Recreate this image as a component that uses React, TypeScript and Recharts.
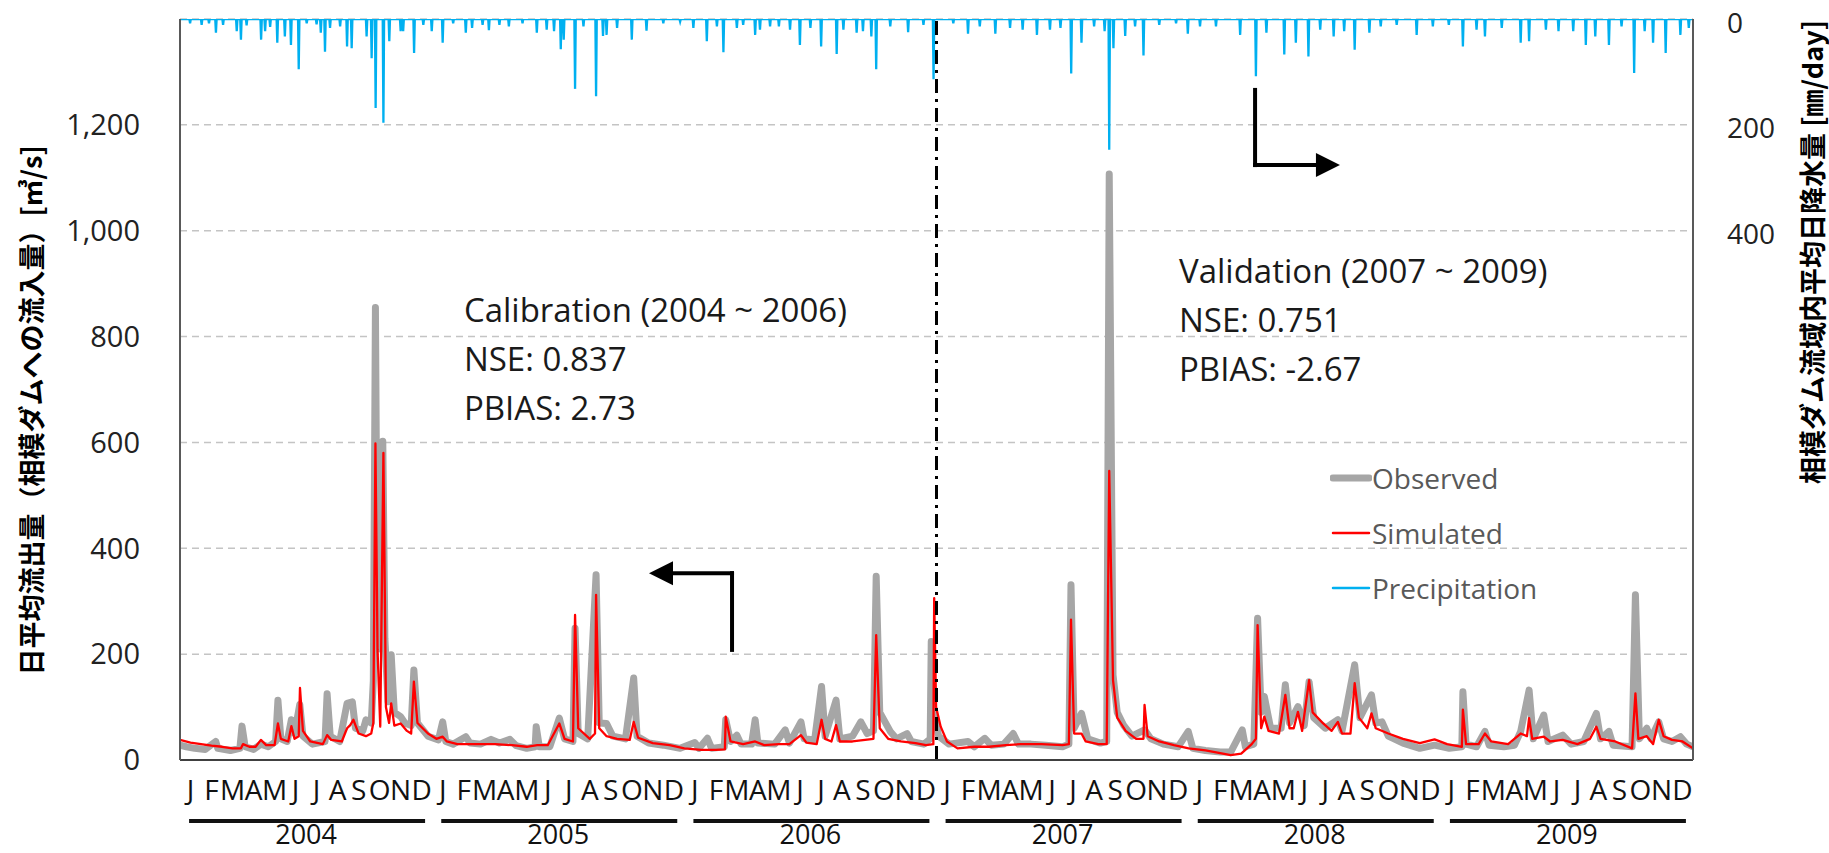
import React from 'react';
import {
  ComposedChart,
  Line,
  XAxis,
  YAxis,
  CartesianGrid,
  ReferenceLine,
  ReferenceDot,
  Legend,
} from 'recharts';

// ---------- categories / tick labels ----------
const monthLetters = ['J', 'F', 'M', 'A', 'M', 'J', 'J', 'A', 'S', 'O', 'N', 'D'];
const years = ['2004', '2005', '2006', '2007', '2008', '2009'];
const leftTicks = [0, 200, 400, 600, 800, 1000, 1200];
const rightTicks = [0, 200, 400];
const seriesNames = ['Observed', 'Simulated', 'Precipitation'];

// ---------- series: [time in months since Jan 2004, value] ----------
const observed: [number, number][] = [
  [0, 28], [0.3, 25], [0.7, 22], [1.2, 20], [1.7, 35], [1.8, 22], [2.4, 18], [2.85, 22], [2.95, 64], [3.1, 25],
  [3.5, 20], [3.85, 30], [4.2, 25], [4.55, 35], [4.66, 113], [4.8, 40], [5.1, 35], [5.3, 76], [5.45, 50], [5.7, 105],
  [5.85, 45], [6.3, 30], [6.9, 35], [7.0, 125], [7.15, 45], [7.6, 35], [7.95, 107], [8.2, 110], [8.35, 60], [8.7, 55],
  [8.85, 76], [9.1, 70], [9.2, 150], [9.3, 855], [9.4, 220], [9.5, 210], [9.65, 602], [9.75, 230], [9.9, 110], [10.05, 199],
  [10.2, 90], [10.5, 82], [10.7, 70], [11.0, 65], [11.13, 170], [11.3, 70], [11.8, 45], [12.3, 38], [12.5, 72], [12.65, 35],
  [13.0, 30], [13.6, 44], [13.8, 32], [14.3, 30], [14.8, 39], [15.2, 32], [15.7, 39], [16.0, 27], [16.5, 22], [16.9, 25],
  [16.95, 63], [17.1, 25], [17.6, 25], [18.05, 79], [18.3, 40], [18.7, 35], [18.8, 249], [18.95, 50], [19.4, 40], [19.8, 350],
  [19.95, 70], [20.3, 69], [20.6, 45], [21.2, 40], [21.59, 155], [21.75, 45], [22.3, 32], [23.0, 28], [23.8, 22], [24.5, 33],
  [24.7, 22], [25.1, 41], [25.3, 22], [25.9, 25], [25.97, 76], [26.2, 35], [26.5, 47], [26.7, 30], [27.2, 30], [27.37, 76],
  [27.5, 32], [28.3, 30], [28.8, 57], [29.0, 32], [29.55, 72], [29.7, 40], [30.2, 38], [30.53, 139], [30.7, 45], [31.22, 113],
  [31.4, 40], [32.0, 45], [32.4, 72], [32.7, 50], [33.0, 55], [33.13, 347], [33.3, 90], [33.8, 54], [34.1, 40], [34.6, 50],
  [34.8, 35], [35.4, 30], [35.7, 40], [35.75, 224], [35.85, 100], [36.1, 45], [36.6, 30], [37.5, 35], [37.8, 25], [38.3, 41],
  [38.6, 28], [39.2, 30], [39.65, 50], [39.9, 30], [40.5, 30], [41.2, 28], [42.0, 25], [42.3, 30], [42.4, 331], [42.55, 60],
  [42.9, 88], [43.2, 40], [43.8, 32], [44.1, 35], [44.22, 1107], [44.4, 161], [44.6, 90], [44.9, 66], [45.3, 45], [45.9, 57],
  [46.2, 40], [46.8, 30], [47.5, 25], [47.98, 54], [48.2, 22], [48.8, 18], [49.5, 15], [50.0, 15], [50.55, 57], [50.7, 25],
  [51.1, 30], [51.28, 268], [51.45, 90], [51.6, 120], [51.9, 60], [52.4, 60], [52.6, 142], [52.8, 70], [53.2, 101], [53.5, 65],
  [53.73, 148], [53.95, 80], [54.5, 60], [55.1, 76], [55.3, 55], [55.9, 180], [56.15, 80], [56.7, 123], [56.9, 70], [57.2, 72],
  [57.5, 45], [58.2, 32], [59.0, 22], [59.7, 28], [60.4, 22], [61.0, 25], [61.05, 129], [61.2, 30], [61.7, 25], [62.1, 54],
  [62.3, 28], [63.0, 25], [63.5, 28], [63.8, 54], [64.2, 132], [64.4, 40], [64.9, 85], [65.1, 35], [65.8, 47], [66.2, 30],
  [66.8, 35], [67.4, 88], [67.6, 40], [68.0, 54], [68.2, 28], [69.1, 25], [69.26, 312], [69.45, 40], [69.8, 60], [70.0, 40],
  [70.37, 72], [70.6, 40], [71.0, 35], [71.4, 44], [71.7, 30], [72, 25],
];

const simulated: [number, number][] = [
  [0, 38], [0.5, 33], [1.0, 30], [1.5, 27], [2.0, 25], [2.5, 22], [2.9, 22], [3.0, 30], [3.3, 25], [3.6, 25],
  [3.85, 38], [4.1, 28], [4.5, 28], [4.66, 69], [4.8, 40], [5.15, 35], [5.3, 64], [5.45, 40], [5.65, 45], [5.71, 136],
  [5.85, 55], [6.2, 35], [6.8, 30], [7.0, 47], [7.2, 38], [7.7, 35], [7.95, 60], [8.1, 66], [8.25, 76], [8.5, 50],
  [8.85, 45], [9.1, 50], [9.2, 70], [9.3, 598], [9.4, 208], [9.53, 63], [9.68, 580], [9.8, 100], [9.95, 70], [10.05, 107],
  [10.2, 65], [10.5, 69], [10.8, 55], [11.0, 50], [11.13, 148], [11.3, 70], [11.8, 50], [12.2, 40], [12.5, 44], [12.7, 35],
  [13.2, 30], [14.0, 30], [15.0, 30], [15.8, 28], [16.5, 25], [17.0, 28], [17.5, 28], [18.05, 69], [18.3, 40], [18.7, 35],
  [18.8, 274], [18.95, 60], [19.5, 40], [19.75, 50], [19.8, 312], [19.95, 60], [20.3, 45], [20.8, 40], [21.4, 38], [21.59, 72],
  [21.8, 42], [22.5, 32], [23.3, 28], [24.0, 22], [24.8, 19], [25.5, 19], [25.93, 20], [25.97, 82], [26.2, 35], [26.8, 30],
  [27.37, 35], [27.8, 28], [28.5, 30], [29.0, 30], [29.55, 47], [29.8, 33], [30.3, 30], [30.53, 76], [30.7, 40], [31.0, 35],
  [31.22, 66], [31.4, 35], [32.0, 35], [32.6, 38], [33.0, 40], [33.13, 236], [33.3, 60], [33.7, 40], [34.3, 35], [35.0, 32],
  [35.5, 28], [35.85, 30], [35.89, 306], [35.98, 100], [36.2, 63], [36.5, 35], [37.0, 22], [37.8, 25], [38.5, 25], [39.3, 28],
  [40.0, 30], [41.0, 30], [42.0, 28], [42.3, 30], [42.4, 265], [42.55, 50], [42.9, 50], [43.1, 35], [43.7, 30], [44.1, 30],
  [44.22, 546], [44.4, 151], [44.6, 80], [45.0, 55], [45.5, 40], [45.85, 40], [45.9, 104], [46.05, 45], [46.6, 35], [47.3, 28],
  [48.0, 22], [48.8, 18], [49.5, 13], [50.0, 9], [50.5, 12], [51.0, 30], [51.2, 40], [51.28, 255], [51.45, 60], [51.6, 82],
  [51.8, 55], [52.3, 50], [52.6, 123], [52.8, 60], [53.0, 60], [53.2, 91], [53.4, 55], [53.73, 151], [53.9, 90], [54.4, 69],
  [54.8, 55], [55.1, 72], [55.3, 50], [55.7, 50], [55.9, 145], [56.1, 80], [56.5, 60], [56.7, 88], [56.9, 60], [57.5, 50],
  [58.2, 40], [59.0, 32], [59.7, 39], [60.3, 30], [61.0, 25], [61.05, 95], [61.2, 30], [61.8, 30], [62.1, 50], [62.4, 35],
  [63.2, 30], [63.8, 50], [64.1, 45], [64.2, 79], [64.35, 40], [64.9, 44], [65.2, 35], [65.8, 38], [66.5, 30], [67.1, 40],
  [67.4, 63], [67.6, 40], [68.3, 35], [69.1, 22], [69.26, 126], [69.4, 40], [69.8, 45], [70.1, 30], [70.37, 76], [70.6, 45],
  [71.0, 38], [71.5, 35], [72, 22],
];

// rain days: [time in months, mm/day]
const precipitation: [number, number][] = [
  [0.48, 8], [1.03, 11], [1.38, 8], [1.71, 26], [2.05, 11], [2.7, 23], [2.9, 39], [3.17, 12], [3.86, 39], [4.05, 23],
  [4.29, 15], [4.63, 45], [4.99, 33], [5.28, 49], [5.65, 95], [6.03, 8], [6.5, 10], [6.7, 26], [6.9, 62], [7.14, 17],
  [7.62, 14], [7.95, 52], [8.17, 55], [8.88, 33], [9.12, 74], [9.31, 168], [9.68, 196], [9.96, 42], [10.5, 23], [10.62, 23],
  [11.14, 64], [11.58, 11], [11.98, 23], [12.5, 45], [13.0, 8], [13.6, 26], [13.9, 17], [14.4, 11], [14.7, 21], [15.2, 11],
  [15.65, 14], [16.3, 8], [16.98, 26], [17.45, 20], [17.8, 23], [18.12, 57], [18.26, 39], [18.8, 132], [19.2, 14], [19.8, 146],
  [20.13, 32], [20.3, 30], [20.8, 17], [21.5, 39], [22.2, 22], [23.0, 8], [23.8, 5], [24.43, 17], [25.07, 42], [25.55, 14],
  [25.86, 63], [26.5, 17], [26.8, 11], [27.37, 30], [27.6, 20], [28.08, 14], [28.5, 14], [29.03, 20], [29.5, 49], [30.0, 17],
  [30.51, 52], [31.25, 66], [31.57, 20], [32.2, 26], [32.5, 23], [32.9, 33], [33.13, 95], [33.8, 14], [34.65, 25], [35.38, 11],
  [35.86, 114], [36.8, 8], [37.5, 28], [38.06, 14], [38.8, 28], [39.5, 17], [40.1, 20], [40.78, 30], [41.4, 20], [41.9, 17],
  [42.41, 103], [42.9, 45], [43.5, 14], [44.0, 23], [44.22, 247], [44.42, 55], [44.98, 32], [45.45, 14], [45.85, 69], [46.6, 11],
  [47.4, 8], [47.96, 28], [48.54, 14], [49.3, 14], [50.45, 30], [51.2, 108], [51.7, 26], [52.55, 67], [53.1, 45], [53.7, 71],
  [54.26, 20], [54.9, 33], [55.4, 23], [55.9, 58], [56.6, 26], [57.14, 14], [57.9, 11], [58.85, 30], [59.62, 14], [60.38, 11],
  [61.05, 52], [61.7, 20], [62.1, 33], [62.9, 17], [63.8, 45], [64.2, 42], [65.0, 20], [65.6, 23], [66.3, 23], [66.9, 49],
  [67.35, 33], [68.0, 49], [68.6, 14], [69.2, 102], [69.7, 23], [70.1, 45], [70.7, 64], [71.4, 30], [71.8, 17],
];

const calibrationText = ['Calibration (2004 ~ 2006)', 'NSE: 0.837', 'PBIAS: 2.73'];
const validationText = ['Validation (2007 ~ 2009)', 'NSE: 0.751', 'PBIAS: -2.67'];

// ---------- tables built for the library ----------
const obsData = observed.map(([t, v]) => ({ t, v }));
const simData = simulated.map(([t, v]) => ({ t, v }));
const DAY = 1 / 30.4;
const preData: { t: number; v: number }[] = [{ t: 0, v: 0 }];
precipitation.forEach(([t, v]) => {
  preData.push({ t: t - DAY, v: 0 }, { t, v }, { t: t + DAY, v: 0 });
});
preData.push({ t: 72, v: 0 });

const monthTicks = Array.from({ length: years.length * 12 + 1 }, (_, i) => i);
const monthLabelTicks = Array.from({ length: years.length * 12 }, (_, i) => i + 0.5);
const yearTicks = years.map((_, i) => i * 12 + 6);

const LATIN = '"Open Sans", "Noto Sans", sans-serif';
const CJK = '"Noto Sans CJK JP", "Noto Sans", sans-serif';

const legendWidths: Record<string, number> = { Observed: 7, Simulated: 2.5, Precipitation: 2.5 };

const LegendContent = (props: any) => {
  const payload = [...(props.payload || [])].sort(
    (a: any, b: any) => seriesNames.indexOf(a.value) - seriesNames.indexOf(b.value)
  );
  return (
    <div style={{ fontFamily: LATIN, fontSize: 28, color: '#595959' }}>
      {payload.map((e: any) => (
        <div key={e.value} style={{ display: 'flex', alignItems: 'center', height: 55 }}>
          <svg width={42} height={14} style={{ display: 'block' }}>
            <line x1={3} x2={39} y1={7} y2={7} stroke={e.color} strokeWidth={legendWidths[e.value] || 2} strokeLinecap="round" />
          </svg>
          <span>{e.value}</span>
        </div>
      ))}
    </div>
  );
};

const YearTick = (props: any) => {
  const { x, y, payload } = props;
  const label = years[Math.floor(payload.value / 12)];
  return (
    <g>
      <line x1={x - 117} x2={x + 119} y1={y + 11} y2={y + 11} stroke="#111" strokeWidth={4} />
      <text x={x} y={y + 23} textAnchor="middle" dominantBaseline="central" fontSize={27} fontFamily={LATIN} fill="#111">
        {label}
      </text>
    </g>
  );
};

const RightTick = (props: any) => {
  const { x, y, payload } = props;
  return (
    <text x={x} y={y + 2.5} textAnchor="start" dominantBaseline="central" fontSize={28} fontFamily={LATIN} fill="#222">
      {payload.value}
    </text>
  );
};

const textBlock = (lines: string[]) => (props: any) => (
  <text x={props.cx} y={props.cy} fontSize={33} fontFamily={LATIN} fill="#1a1a1a">
    {lines.map((l, i) => (
      <tspan key={i} x={props.cx} dy={i === 0 ? '0.36em' : 49}>
        {l}
      </tspan>
    ))}
  </text>
);

const headLeft = (props: any) => (
  <polygon
    points={`${props.cx},${props.cy} ${props.cx + 24},${props.cy - 12} ${props.cx + 24},${props.cy + 12}`}
    fill="#000"
  />
);
const headRight = (props: any) => (
  <polygon
    points={`${props.cx},${props.cy} ${props.cx - 24},${props.cy - 12} ${props.cx - 24},${props.cy + 12}`}
    fill="#000"
  />
);

const LeftTitle = (props: any) => {
  const vb = props.viewBox || { x: 0, y: 0, height: 0 };
  const cx = vb.x + 30;
  const cy = vb.y + vb.height / 2 + 21;
  return (
    <text
      x={cx}
      y={cy}
      transform={`rotate(-90, ${cx}, ${cy})`}
      textAnchor="middle"
      dominantBaseline="central"
      fontSize={27}
      fontWeight={700}
      fontFamily={CJK}
      fill="#000"
    >
      日平均流出量（相模ダムへの流入量）[㎥/s]
    </text>
  );
};

const RightTitle = (props: any) => {
  const vb = props.viewBox || { x: 0, y: 0, height: 0 };
  const cx = vb.x + vb.width - 18;
  const cy = vb.y + 233;
  return (
    <text
      x={cx}
      y={cy}
      transform={`rotate(-90, ${cx}, ${cy})`}
      textAnchor="middle"
      dominantBaseline="central"
      fontSize={27}
      fontWeight={700}
      fontFamily={CJK}
      fill="#000"
    >
      相模ダム流域内平均日降水量 [㎜/day]
    </text>
  );
};

export default function App() {
  return (
    <div style={{ position: 'fixed', left: 0, top: 0, width: 1829, height: 853, background: '#fff' }}>
      <ComposedChart width={1829} height={853} margin={{ top: 19, right: 0, bottom: 0, left: 0 }}>
        <CartesianGrid
          xAxisId="main"
          yAxisId="left"
          vertical={false}
          stroke="#c4c4c4"
          strokeWidth={1.5}
          strokeDasharray="7 5"
        />
        <XAxis
          xAxisId="main"
          dataKey="t"
          type="number"
          domain={[0, 72]}
          allowDataOverflow
          ticks={monthTicks}
          interval={0}
          tick={false}
          tickSize={10}
          tickLine={{ stroke: '#404040', strokeWidth: 2 }}
          axisLine={{ stroke: '#404040', strokeWidth: 2 }}
          height={10}
        />
        <XAxis
          xAxisId="month"
          dataKey="t"
          type="number"
          domain={[0, 72]}
          allowDataOverflow
          ticks={monthLabelTicks}
          interval={0}
          tickFormatter={(v: number) => monthLetters[Math.floor(v) % 12]}
          tick={{ fontSize: 28, fill: '#111', fontFamily: LATIN }}
          tickLine={false}
          tickSize={0}
          tickMargin={10}
          axisLine={false}
          height={40}
        />
        <XAxis
          xAxisId="year"
          dataKey="t"
          type="number"
          domain={[0, 72]}
          allowDataOverflow
          ticks={yearTicks}
          interval={0}
          tick={<YearTick />}
          tickLine={false}
          tickSize={0}
          tickMargin={0}
          axisLine={false}
          height={43}
        />
        <YAxis
          yAxisId="left"
          type="number"
          domain={[0, 1400]}
          ticks={leftTicks}
          interval={0}
          allowDataOverflow
          width={180}
          tickFormatter={(v: number) => v.toLocaleString('en-US')}
          tick={{ fontSize: 29, fill: '#222', fontFamily: LATIN }}
          tickLine={false}
          tickSize={6}
          tickMargin={34}
          axisLine={{ stroke: '#595959', strokeWidth: 2 }}
          label={<LeftTitle />}
        />
        <YAxis
          yAxisId="right"
          orientation="right"
          type="number"
          reversed
          domain={[0, 1400]}
          ticks={rightTicks}
          interval={0}
          allowDataOverflow
          width={136}
          tick={<RightTick />}
          tickLine={false}
          tickSize={6}
          tickMargin={28}
          axisLine={{ stroke: '#595959', strokeWidth: 2 }}
          label={<RightTitle />}
        />
        <Line
          xAxisId="main"
          yAxisId="left"
          data={obsData}
          dataKey="v"
          name="Observed"
          type="linear"
          stroke="#a6a6a6"
          strokeWidth={7}
          strokeLinejoin="round"
          strokeLinecap="round"
          dot={false}
          activeDot={false}
          isAnimationActive={false}
        />
        <Line
          xAxisId="main"
          yAxisId="left"
          data={simData}
          dataKey="v"
          name="Simulated"
          type="linear"
          stroke="#ff0000"
          strokeWidth={2.3}
          strokeLinejoin="round"
          dot={false}
          activeDot={false}
          isAnimationActive={false}
        />
        <Line
          xAxisId="main"
          yAxisId="right"
          data={preData}
          dataKey="v"
          name="Precipitation"
          type="linear"
          stroke="#00b0f0"
          strokeWidth={2.3}
          dot={false}
          activeDot={false}
          isAnimationActive={false}
        />
        <ReferenceLine
          xAxisId="main"
          yAxisId="left"
          x={36}
          stroke="#000"
          strokeWidth={3}
          strokeDasharray="14 6 3 6"
        />
        {/* left arrow (flow axis) */}
        <ReferenceLine
          xAxisId="main"
          yAxisId="left"
          segment={[{ x: 26.27, y: 208 }, { x: 26.27, y: 353 }]}
          stroke="#000"
          strokeWidth={4}
          strokeLinecap="square"
        />
        <ReferenceLine
          xAxisId="main"
          yAxisId="left"
          segment={[{ x: 26.27, y: 353 }, { x: 23.2, y: 353 }]}
          stroke="#000"
          strokeWidth={4}
          strokeLinecap="square"
        />
        <ReferenceDot xAxisId="main" yAxisId="left" x={22.32} y={353} r={1} shape={headLeft} />
        {/* right arrow (precipitation axis) */}
        <ReferenceLine
          xAxisId="main"
          yAxisId="left"
          segment={[{ x: 51.16, y: 1266 }, { x: 51.16, y: 1124 }]}
          stroke="#000"
          strokeWidth={4}
          strokeLinecap="square"
        />
        <ReferenceLine
          xAxisId="main"
          yAxisId="left"
          segment={[{ x: 51.16, y: 1124 }, { x: 54.3, y: 1124 }]}
          stroke="#000"
          strokeWidth={4}
          strokeLinecap="square"
        />
        <ReferenceDot xAxisId="main" yAxisId="left" x={55.2} y={1124} r={1} shape={headRight} />
        <ReferenceDot xAxisId="main" yAxisId="left" x={13.51} y={850} r={1} shape={textBlock(calibrationText)} />
        <ReferenceDot xAxisId="main" yAxisId="left" x={47.54} y={924} r={1} shape={textBlock(validationText)} />
        <Legend
          layout="vertical"
          align="center"
          verticalAlign="middle"
          content={<LegendContent />}
          wrapperStyle={{ position: 'absolute', left: 1330, top: 450, width: 'auto' }}
        />
      </ComposedChart>
    </div>
  );
}
